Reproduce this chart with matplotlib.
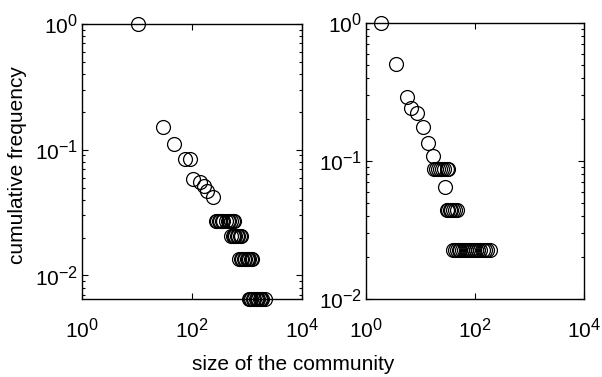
import matplotlib
matplotlib.use("Agg")
import matplotlib.pyplot as plt
from matplotlib.ticker import LogLocator, FixedLocator, NullLocator
try:
    import matplotlib._mathtext as _mt
    _mt.SHRINK_FACTOR = 0.78
except Exception:
    pass

plt.rcParams['font.family'] = ['Liberation Sans', 'DejaVu Sans']
plt.rcParams['mathtext.fontset'] = 'custom'
plt.rcParams['mathtext.rm'] = 'Liberation Sans'
plt.rcParams['mathtext.it'] = 'Liberation Sans'
plt.rcParams['mathtext.default'] = 'regular'

# Left panel data
left_size = [10.3, 30, 47, 75, 92, 106, 140, 165, 190, 244,
             272, 290, 308, 328, 350, 372, 420, 448, 478, 510, 545, 578,
             512, 545, 580, 615, 652, 690, 735, 785,
             725, 770, 820, 870, 925, 985, 1045, 1110, 1170, 1230,
             1070, 1135, 1200, 1275, 1350, 1430, 1515, 1610, 1700, 1800, 1910, 2090]
left_freq = [1.0, 0.152, 0.111, 0.0843, 0.0843, 0.0585, 0.0551, 0.0518, 0.0472, 0.0418,
             0.0272, 0.0272, 0.0272, 0.0272, 0.0272, 0.0272, 0.0272, 0.0272, 0.0272, 0.0272, 0.0272, 0.0272,
             0.0206, 0.0206, 0.0206, 0.0206, 0.0206, 0.0206, 0.0206, 0.0206,
             0.0135, 0.0135, 0.0135, 0.0135, 0.0135, 0.0135, 0.0135, 0.0135, 0.0135, 0.0135,
             0.0065, 0.0065, 0.0065, 0.0065, 0.0065, 0.0065, 0.0065, 0.0065, 0.0065, 0.0065, 0.0065, 0.0065]

# Right panel data
right_size = [1.9, 3.6, 5.6, 6.8, 8.6, 10.9, 13.6, 17,
              18, 19.5, 21, 23, 25, 27.5, 30, 32.5,
              28,
              30, 32, 34.5, 37, 40, 43.5, 47,
              40, 43, 46, 50, 54, 58, 63, 68, 74, 80, 87, 95, 104, 114, 125, 138, 152, 168, 186]
right_freq = [1.0, 0.508, 0.291, 0.244, 0.223, 0.175, 0.134, 0.108,
              0.088, 0.088, 0.088, 0.088, 0.088, 0.088, 0.088, 0.088,
              0.065,
              0.0445, 0.0445, 0.0445, 0.0445, 0.0445, 0.0445, 0.0445,
              0.0225, 0.0225, 0.0225, 0.0225, 0.0225, 0.0225, 0.0225, 0.0225, 0.0225, 0.0225,
              0.0225, 0.0225, 0.0225, 0.0225, 0.0225, 0.0225, 0.0225, 0.0225, 0.0225]

x_ticks = [1, 100, 10000]
x_ticklabels = ['$10^{0}$', '$10^{2}$', '$10^{4}$']
y_ticks = [0.01, 0.1, 1]
y_ticklabels = ['$10^{-2}$', '$10^{-1}$', '$10^{0}$']

W, H = 602, 377
fig = plt.figure(figsize=(W / 100, H / 100), dpi=100)

def box(l, r, t, b):
    return [l / W, 1 - b / H, (r - l) / W, (b - t) / H]

axL = fig.add_axes(box(82, 302, 24, 299))
axR = fig.add_axes(box(366, 584, 23, 299))

for ax, xs, ys, ylim in [(axL, left_size, left_freq, (0.0065, 1.0)),
                         (axR, right_size, right_freq, (0.01, 1.0))]:
    ax.loglog(xs, ys, 'o', mfc='none', mec='black', ms=10, mew=0.9, clip_on=False, zorder=3)
    ax.set_xlim(1, 10000)
    ax.set_ylim(*ylim)
    ax.xaxis.set_major_locator(FixedLocator(x_ticks))
    ax.set_xticklabels(x_ticklabels)
    ax.xaxis.set_minor_locator(NullLocator())
    ax.yaxis.set_major_locator(FixedLocator(y_ticks))
    ax.set_yticklabels(y_ticklabels)
    ax.yaxis.set_minor_locator(LogLocator(base=10, subs=range(2, 10), numticks=20))
    ax.tick_params(which='both', direction='in', top=True, right=True, labelsize=15, width=0.8)
    ax.tick_params(which='major', length=4)
    ax.tick_params(which='minor', length=2)
    ax.tick_params(axis='x', pad=13)
    ax.tick_params(axis='y', pad=3)
    for s in ax.spines.values():
        s.set_linewidth(1.0)

fig.text(18 / W, 1 - 165 / H, 'cumulative frequency', rotation=90, ha='center', va='center', fontsize=15)
fig.text(293 / W, 1 - 365 / H, 'size of the community', ha='center', va='center', fontsize=15)

fig.savefig('out.png', dpi=100)
